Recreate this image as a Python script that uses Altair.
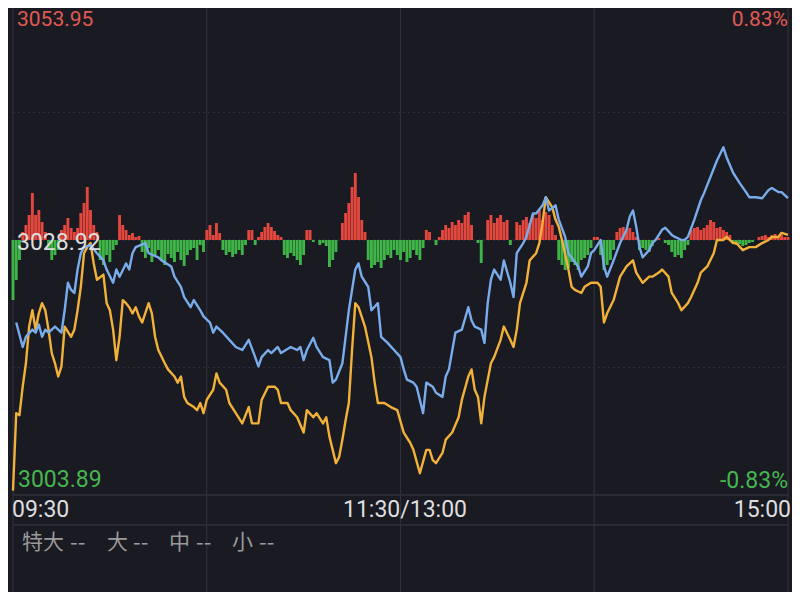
import altair as alt
import pandas as pd

# ---------------- data ----------------
PREV_CLOSE = 3028.92
LOW_PRICE = 3003.89
TOP_OF_VIEW = 3051.69
x_labels = ["09:30", "11:30/13:00", "15:00"]
legend_names = ["特大", "大", "中", "小"]
legend_value = "--"

# blue line: minute index since 09:30 (lunch break removed), change vs previous close (points)
blue_min = [1, 3, 4, 6, 7, 8, 9, 10, 11, 13, 15, 16, 17, 18, 19, 20, 21, 22, 24, 26,
            28, 29, 31, 32, 33, 35, 36, 37, 38, 41, 42, 45, 46, 49, 50, 52, 53, 55, 56, 58,
            59, 61, 62, 63, 65, 67, 69, 71, 73, 75, 76, 77, 79, 80, 82, 83, 86, 88, 89, 90,
            91, 93, 94, 96, 98, 99, 100, 102, 103, 104, 106, 107, 108, 109, 110, 111, 113, 114, 116, 118,
            120, 121, 122, 124, 125, 127, 128, 130, 131, 133, 134, 135, 137, 139, 141, 142, 143, 145, 146, 147,
            148, 149, 151, 152, 154, 155, 156, 158, 159, 161, 162, 164, 165, 166, 168, 169, 171, 172, 175, 176,
            178, 179, 180, 182, 183, 184, 186, 188, 190, 191, 192, 193, 194, 195, 197, 198, 199, 201, 202, 204,
            205, 207, 208, 209, 211, 213, 214, 216, 218, 220, 221, 223, 225, 227, 228, 230, 232, 234, 235, 237,
            238, 240]
blue_chg = [-8.1, -10.5, -9.5, -8.8, -9.1, -8.3, -9.5, -8.8, -9.1, -8.5, -9.1, -6.9, -4.2, -4.9, -5.2, -2.9, -1.3, -0.7, -0.5, -1.3,
            -2.0, -2.9, -4.2, -2.9, -3.6, -2.3, -2.9, -1.3, -0.7, -0.3, -1.3, -1.7, -2.0, -2.6, -3.6, -4.6, -5.6, -6.6, -5.9, -6.9,
            -7.5, -8.1, -9.1, -8.5, -9.1, -9.8, -10.5, -10.8, -9.8, -11.5, -12.4, -11.5, -10.8, -11.1, -10.5, -11.1, -10.5, -10.8, -10.5, -11.8,
            -10.8, -9.6, -10.5, -11.5, -11.8, -14.0, -13.7, -12.1, -9.5, -6.9, -2.9, -2.3, -3.6, -4.1, -4.6, -6.9, -6.2, -9.5, -10.1, -10.8,
            -11.5, -12.7, -13.7, -14.0, -14.4, -17.0, -14.0, -14.4, -15.0, -15.4, -13.4, -12.7, -9.1, -8.8, -6.6, -7.9, -8.5, -8.8, -10.1, -6.2,
            -3.9, -2.9, -3.9, -2.0, -4.2, -5.6, -1.3, -0.3, 0.3, 2.6, 2.6, 3.4, 4.2, 2.9, 3.4, 2.0, 0.3, -1.3, -2.6, -3.6,
            -2.6, -1.3, -1.0, 0.0, -2.6, -3.6, -2.0, -0.3, 1.0, 2.3, 2.9, 1.3, -0.7, -1.7, -1.0, -0.3, 0.0, 1.0, 1.2, 0.5,
            0.3, 0.0, 0.0, 0.3, 2.0, 3.9, 4.6, 6.2, 7.8, 9.1, 8.1, 6.6, 5.6, 4.7, 4.2, 4.2, 4.1, 4.9, 5.1, 4.7,
            4.7, 4.1]

# orange line
orange_min = [0, 1, 2, 3, 4, 5, 6, 7, 8, 9, 10, 11, 12, 13, 14, 15, 16, 18, 19, 20,
              21, 22, 23, 24, 25, 26, 28, 29, 30, 31, 32, 33, 34, 35, 36, 37, 38, 39, 40, 42,
              43, 44, 45, 47, 48, 50, 51, 52, 53, 54, 56, 57, 58, 59, 60, 62, 63, 64, 66, 67,
              69, 71, 73, 74, 76, 77, 79, 81, 82, 83, 85, 86, 88, 90, 91, 93, 94, 96, 97, 98,
              100, 101, 102, 103, 104, 105, 106, 107, 109, 111, 112, 113, 115, 117, 119, 121, 123, 124, 126, 128,
              129, 130, 131, 133, 134, 136, 138, 139, 141, 142, 143, 144, 145, 146, 148, 149, 151, 152, 154, 155,
              156, 157, 159, 160, 162, 163, 164, 165, 167, 168, 169, 170, 172, 173, 174, 176, 177, 179, 181, 182,
              183, 184, 186, 188, 190, 192, 193, 195, 197, 198, 200, 201, 203, 204, 206, 207, 209, 210, 212, 213,
              215, 217, 218, 220, 221, 223, 224, 226, 228, 230, 232, 234, 235, 237, 238, 240]
orange_chg = [-24.6, -17.0, -17.2, -14.4, -12.1, -8.5, -6.9, -8.8, -7.2, -6.2, -6.9, -8.8, -11.1, -12.1, -13.4, -12.4, -8.5, -9.5, -8.8, -6.9,
              -4.6, -1.3, -0.7, -0.3, -2.3, -3.9, -3.4, -6.2, -6.9, -8.8, -11.8, -9.5, -5.9, -6.2, -6.6, -7.2, -6.6, -7.5, -8.1, -6.2,
              -7.2, -9.5, -10.8, -12.1, -12.7, -13.4, -14.0, -13.4, -15.4, -16.0, -16.4, -16.7, -16.0, -17.0, -15.7, -14.7, -13.1, -14.0, -14.7, -16.0,
              -17.0, -18.0, -16.4, -18.0, -18.0, -15.7, -14.4, -14.4, -14.7, -16.0, -16.0, -16.7, -17.4, -18.9, -16.7, -17.4, -17.0, -18.0, -17.4, -19.3,
              -21.9, -21.3, -19.6, -17.7, -16.0, -10.8, -6.2, -6.6, -8.5, -11.5, -14.0, -16.0, -16.0, -16.4, -16.7, -18.9, -19.9, -20.6, -22.9, -20.6,
              -20.6, -21.6, -21.9, -20.9, -19.6, -18.9, -17.4, -15.7, -13.4, -12.7, -14.7, -15.4, -18.0, -15.4, -12.1, -11.5, -9.8, -8.5, -9.8, -10.5,
              -8.8, -6.2, -4.2, -2.0, -1.3, -0.3, 1.7, 4.2, 3.2, 2.0, 1.3, 0.0, -2.9, -4.6, -4.9, -5.2, -4.6, -4.2, -4.2, -4.6,
              -8.1, -7.2, -5.9, -3.6, -2.6, -2.0, -3.2, -4.2, -3.6, -3.6, -3.2, -2.9, -3.6, -5.2, -6.2, -6.9, -6.2, -5.6, -4.2, -3.2,
              -2.6, -1.3, 0.0, 0.0, 0.3, -0.3, -0.3, -1.0, -0.7, -0.7, -0.3, 0.0, 0.3, 0.3, 0.7, 0.5]

# per-minute fund flow bars (positive = red, negative = green), arbitrary units
flow = [-60, -40, -20, 8, 15, 25, 47, 25, 30, 18, 8,
        -8, -20, -15, -10, 10, 15, 22, 12, 8, 12,
        27, 37, 53, 30, 15, 8, -20, -25, -15, -22,
        -10, -5, 25, 15, 10, 5, 7, 3, 4, -12,
        -18, -8, -22, -15, -10, -20, -25, -14, -18, -22,
        -12, -20, -26, -15, -10, -8, -20, -5, -12, 10,
        15, 5, 17, 7, -10, -15, -12, -17, -14, -10,
        -15, -5, 10, 10, -5, 3, 8, 13, 17, 13,
        9, 5, 3, -15, -18, -13, -16, -20, -25, -15,
        10, 10, -2, 0, -5, -3, -6, -27, -20, -12,
        0, 17, 27, 37, 53, 67, 43, 20, 8, -20,
        -28, -25, -22, -28, -20, -15, -18, -10, -15, -20,
        -12, -22, -18, -10, -15, -20, -8, 10, 8, 0,
        -5, 3, 10, 15, 12, 18, 15, 20, 17, 25,
        28, 15, 0, -3, -23, 0, 20, 25, 17, 22,
        25, 18, 20, -5, 0, 18, 15, 20, 23, 17,
        25, 22, 30, 20, 28, 25, 15, 5, -20, -25,
        -30, -28, -22, -25, -30, -20, -18, -15, -8, 3,
        3, -15, -30, -25, -20, -10, 8, 12, 13, 10,
        12, 8, 3, -10, -8, -10, -12, -6, 0, 2,
        0, -3, -5, -12, -17, -15, -18, -10, -5, 10,
        12, 13, 10, 12, 15, 20, 18, 12, 13, 10,
        8, 5, -3, -5, -4, -6, -5, -3, -2, 0,
        3, 4, 5, 3, 5, 6, 4, 5, 3, 3]
FLOW_DOMAIN = [-255, 232]

grid_minutes = [0, 60, 120, 180, 240]
dash_prices = [3016.41, 3041.44]

# ---------------- styles ----------------
BG = "#1a1a22"
GRID = "#30303c"
RED = "#e4473d"
GREEN = "#3fb548"
BLUE = "#79aceb"
ORANGE = "#f2b23a"
TXT = "#dedede"
LBL_RED = "#e05a52"
LBL_GREEN = "#46b64e"

W, H = 775, 487
xs = alt.Scale(domain=[0, 240], nice=False, zero=False)
ps = alt.Scale(domain=[LOW_PRICE, TOP_OF_VIEW], nice=False, zero=False)

# ---------------- tables ----------------
bars_df = pd.DataFrame({"minute": list(range(len(flow))), "flow": flow, "zero": [0] * len(flow)})
blue_df = pd.DataFrame({"minute": blue_min, "price": [PREV_CLOSE + c for c in blue_chg]})
orange_df = pd.DataFrame({"minute": orange_min, "price": [PREV_CLOSE + c for c in orange_chg]})
grid_df = pd.DataFrame({"m": grid_minutes})
dash_df = pd.DataFrame({"p": dash_prices, "a": [0] * 2, "b": [240] * 2})
base_df = pd.DataFrame({"p": [PREV_CLOSE], "a": [0], "b": [240]})
bottom_df = pd.DataFrame({"p": [LOW_PRICE], "a": [0], "b": [240]})

vgrid = alt.Chart(grid_df).mark_rule(color=GRID, strokeWidth=1.2).encode(
    x=alt.X("m:Q", scale=xs, axis=None), y=alt.value(0), y2=alt.value(584))

dashes = alt.Chart(dash_df).mark_rule(color=GRID, strokeWidth=1, strokeDash=[2, 3]).encode(
    x=alt.X("a:Q", scale=xs, axis=None), x2="b:Q",
    y=alt.Y("p:Q", scale=ps, axis=None))

baseline = alt.Chart(base_df).mark_rule(color="#3a3a46", strokeWidth=1, strokeDash=[2, 3]).encode(
    x=alt.X("a:Q", scale=xs, axis=None), x2="b:Q",
    y=alt.Y("p:Q", scale=ps, axis=None))

bottom_line = alt.Chart(bottom_df).mark_rule(color=GRID, strokeWidth=1.5).encode(
    x=alt.X("a:Q", scale=xs, axis=None), x2="b:Q",
    y=alt.Y("p:Q", scale=ps, axis=None))

label_line = alt.Chart(bottom_df).mark_rule(color=GRID, strokeWidth=1.5).encode(
    x=alt.X("a:Q", scale=xs, axis=None), x2="b:Q", y=alt.value(517))

bars = alt.Chart(bars_df).mark_rule(strokeWidth=2.9).encode(
    x=alt.X("minute:Q", scale=xs, axis=None),
    y=alt.Y("flow:Q", scale=alt.Scale(domain=FLOW_DOMAIN, nice=False, zero=False), axis=None),
    y2="zero:Q",
    color=alt.condition("datum.flow >= 0", alt.value(RED), alt.value(GREEN)),
)

blue_line = alt.Chart(blue_df).mark_line(color=BLUE, strokeWidth=2.4, strokeJoin="round").encode(
    x=alt.X("minute:Q", scale=xs, axis=None), y=alt.Y("price:Q", scale=ps, axis=None))
orange_line = alt.Chart(orange_df).mark_line(color=ORANGE, strokeWidth=2.4, strokeJoin="round").encode(
    x=alt.X("minute:Q", scale=xs, axis=None), y=alt.Y("price:Q", scale=ps, axis=None))


def label(text, x, y, color, align="left", size=23, font="Roboto", baseline="middle"):
    return alt.Chart(pd.DataFrame({"t": [text]})).mark_text(
        align=align, baseline=baseline, fontSize=size, font=font, color=color
    ).encode(x=alt.value(x), y=alt.value(y), text="t:N")


texts = [
    label("3053.95", 4, 1, LBL_RED, baseline="top", size=21),
    label("0.83%", 775, 1, LBL_RED, align="right", baseline="top", size=21),
    label(f"{PREV_CLOSE:.2f}", 4, 235, TXT),
    label(f"{LOW_PRICE:.2f}", 5, 472, LBL_GREEN),
    label("-0.83%", 775, 473, LBL_GREEN, align="right"),
    label(x_labels[0], -1, 502, TXT),
    label(x_labels[1], 392, 502, TXT, align="center"),
    label(x_labels[2], 778, 502, TXT, align="right"),
]
legend_x = [9, 94, 156, 219]
legend_dash_x = [57, 120, 183, 246]
for name, lx, dx in zip(legend_names, legend_x, legend_dash_x):
    texts.append(label(name, lx, 535, "#9a9a9a", size=21, font="Noto Sans CJK SC"))
    texts.append(label(legend_value, dx, 535, "#9a9a9a", size=22, font="Noto Sans CJK SC"))

chart = alt.layer(
    alt.layer(vgrid, dashes, baseline, bottom_line, label_line),
    bars,
    alt.layer(orange_line, blue_line, *texts),
).resolve_scale(y="independent").properties(
    width=W, height=H,
    autosize=alt.AutoSizeParams(type="none"),
    padding={"left": 5, "top": 0, "right": 4, "bottom": 97},
    background=BG,
).configure_view(stroke=None)

chart.save("out.html", embed_options={"renderer": "svg", "actions": False})
